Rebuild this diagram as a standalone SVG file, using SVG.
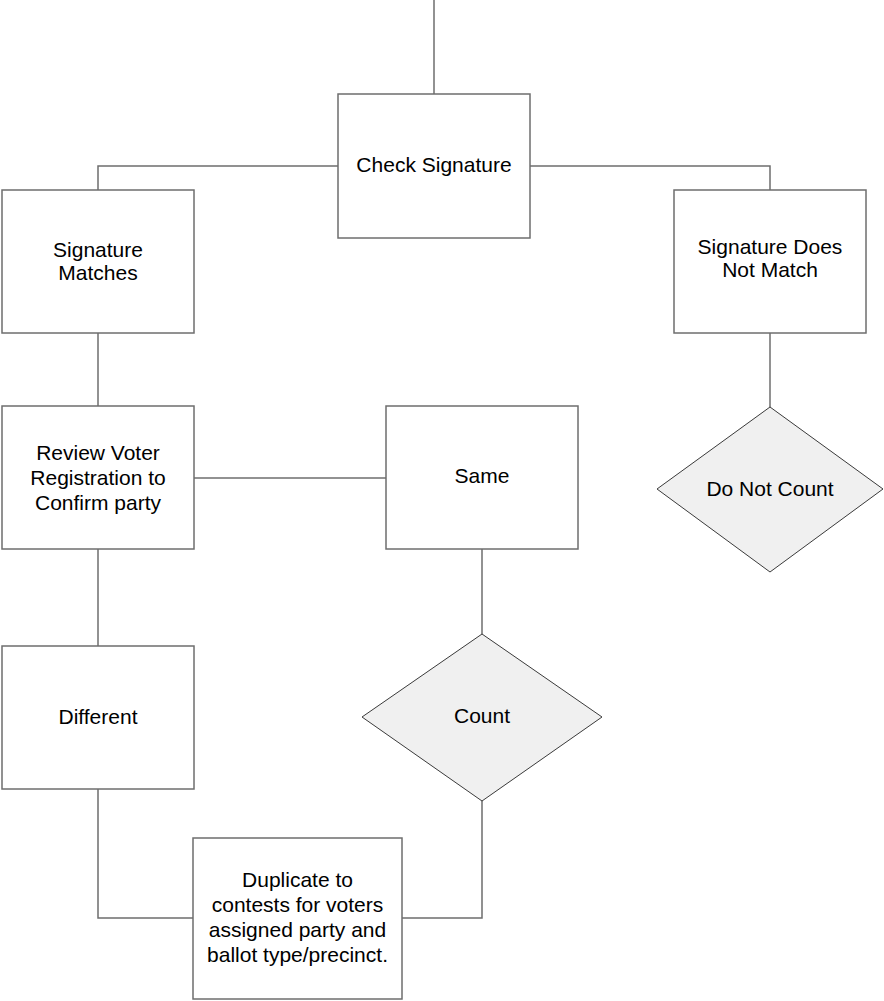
<svg xmlns="http://www.w3.org/2000/svg" width="884" height="1001" viewBox="0 0 884 1001">
<style>
.box{fill:#ffffff;stroke:#6e6e6e;stroke-width:1.5}
.dia{fill:#f0f0f0;stroke:#3a3a3a;stroke-width:1}
.con{fill:none;stroke:#6e6e6e;stroke-width:1.5}
text{font-family:"Liberation Sans",Arial,sans-serif;font-size:21px;fill:#000;text-anchor:middle}
</style>
<rect width="884" height="1001" fill="#ffffff"/>
<g id="connectors">
<path class="con" d="M434,0 V94"/>
<path class="con" d="M338,166 H98 V190"/>
<path class="con" d="M530,166 H770 V190"/>
<path class="con" d="M98,333 V406"/>
<path class="con" d="M194,478 H386"/>
<path class="con" d="M98,549 V646"/>
<path class="con" d="M482,549 V634"/>
<path class="con" d="M770,333 V407"/>
<path class="con" d="M98,789 V918 H193"/>
<path class="con" d="M482,801 V918 H402"/>
</g>
<g id="check-signature">
<rect class="box" x="338" y="94" width="192" height="144"/>
<text x="434" y="172">Check Signature</text>
</g>
<g id="signature-matches">
<rect class="box" x="2" y="190" width="192" height="143"/>
<text x="98" y="257">Signature</text>
<text x="98" y="280">Matches</text>
</g>
<g id="signature-not-match">
<rect class="box" x="674" y="190" width="192" height="143"/>
<text x="770" y="254">Signature Does</text>
<text x="770" y="277">Not Match</text>
</g>
<g id="do-not-count">
<polygon class="dia" points="770,407 883,489 770,572 657,489"/>
<text x="770" y="496">Do Not Count</text>
</g>
<g id="review">
<rect class="box" x="2" y="406" width="192" height="143"/>
<text x="98" y="460">Review Voter</text>
<text x="98" y="485">Registration to</text>
<text x="98" y="510">Confirm party</text>
</g>
<g id="same">
<rect class="box" x="386" y="406" width="192" height="143"/>
<text x="482" y="483">Same</text>
</g>
<g id="different">
<rect class="box" x="2" y="646" width="192" height="143"/>
<text x="98" y="724">Different</text>
</g>
<g id="count">
<polygon class="dia" points="482,634 602,717 482,801 362,717"/>
<text x="482" y="723">Count</text>
</g>
<g id="duplicate">
<rect class="box" x="193" y="838" width="209" height="161"/>
<text x="297.5" y="887">Duplicate to</text>
<text x="297.5" y="912">contests for voters</text>
<text x="297.5" y="937">assigned party and</text>
<text x="297.5" y="962">ballot type/precinct.</text>
</g>
</svg>
